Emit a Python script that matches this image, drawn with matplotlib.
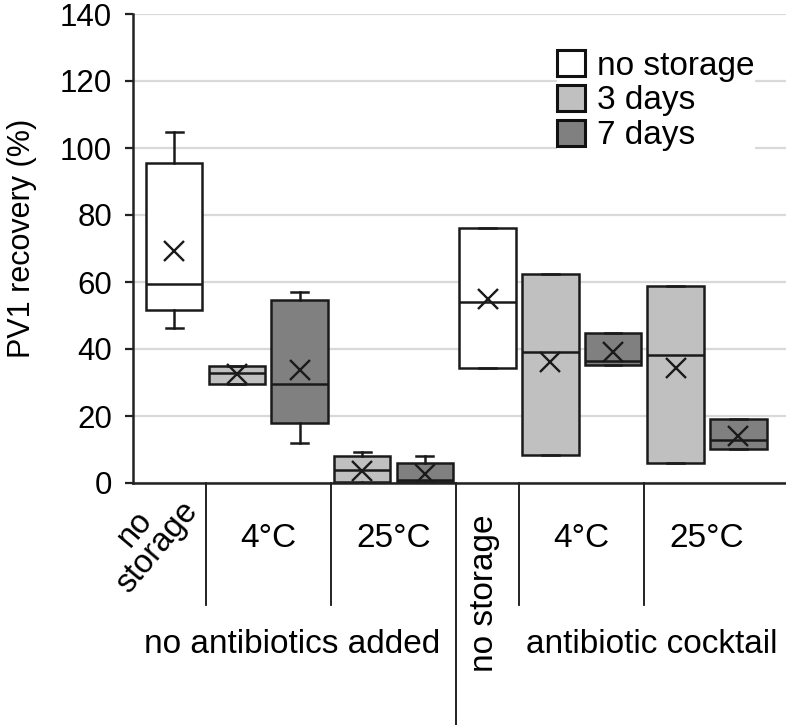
import matplotlib
matplotlib.use("Agg")
import matplotlib.pyplot as plt
from matplotlib.patches import Patch

plt.rcParams["font.family"] = ["Liberation Sans", "DejaVu Sans"]

# box statistics (PV1 recovery, %)
groups = ["no antibiotics added", "antibiotic cocktail"]
conditions = ["no\nstorage", "4°C", "25°C"]
storage = ["no storage", "3 days", "7 days", "3 days", "7 days",
           "no storage", "3 days", "7 days", "3 days", "7 days"]
q1 = [51.6, 29.6, 18.0, 0.4, 0.2, 34.2, 8.4, 35.2, 6.1, 10.2]
med = [59.4, 32.7, 29.6, 3.9, 0.8, 54.1, 39.2, 36.4, 38.2, 12.8]
q3 = [95.4, 35.0, 54.6, 8.1, 6.1, 76.2, 62.3, 44.9, 58.9, 19.2]
whislo = [46.4, 29.6, 11.8, 0.0, 0.0, 34.2, 8.4, 35.2, 6.1, 10.2]
whishi = [104.9, 35.0, 57.1, 9.2, 8.2, 76.2, 62.3, 44.9, 58.9, 19.2]
means = [69.3, 32.6, 33.7, 3.7, 2.7, 54.8, 36.2, 39.2, 34.4, 14.0]

colors = {"no storage": "#ffffff", "3 days": "#c0c0c0", "7 days": "#808080"}
edge = "#1a1a1a"

fig = plt.figure(figsize=(7.86, 7.25), dpi=100)
ax = fig.add_axes([133 / 786, 1 - 483 / 725, 1 - 133 / 786, (483 - 14) / 725])

stats = []
for i in range(len(med)):
    stats.append({
        "q1": q1[i], "med": med[i], "q3": q3[i],
        "whislo": whislo[i], "whishi": whishi[i],
        "mean": means[i], "fliers": [],
    })

positions = list(range(len(stats)))
bp = ax.bxp(
    stats, positions=positions, widths=0.9, capwidths=0.27,
    patch_artist=True, showmeans=True, showfliers=False,
    boxprops=dict(edgecolor=edge, linewidth=1.8),
    medianprops=dict(color=edge, linewidth=1.8),
    whiskerprops=dict(color=edge, linewidth=1.8),
    capprops=dict(color=edge, linewidth=1.8),
    meanprops=dict(marker="x", markersize=15, markeredgecolor=edge,
                   markeredgewidth=1.7),
)
for box, s in zip(bp["boxes"], storage):
    box.set_facecolor(colors[s])

ax.set_ylim(0, 140)
ax.set_xlim(-0.657, 9.76)
ax.set_yticks(range(0, 141, 20))
ax.yaxis.grid(True, color="#d9d9d9", linewidth=1.6)
ax.set_axisbelow(True)
ax.tick_params(axis="y", labelsize=22.5, length=6, width=1.6,
               color="#222222", pad=9)
ax.tick_params(axis="x", bottom=False, labelbottom=False)
for side in ["top", "right"]:
    ax.spines[side].set_visible(False)
for side in ["left", "bottom"]:
    ax.spines[side].set_linewidth(1.8)
    ax.spines[side].set_color("#222222")

fig.text(22 / 786, 1 - 238 / 725, "PV1 recovery (%)", rotation=90,
         ha="center", va="center", fontsize=22)

# category separators below the axis
trans = ax.get_xaxis_transform()
for xs in [0.5, 2.5, 5.5, 7.5]:
    ax.plot([xs, xs], [0, -0.26], color="#111111", linewidth=1.3,
            transform=trans, clip_on=False)
ax.plot([4.5, 4.5], [0, -0.52], color="#111111", linewidth=1.3,
        transform=trans, clip_on=False)

# condition labels
lab_y = -0.119
ax.text(-0.45, -0.117, conditions[0], transform=trans, rotation=50,
        ha="center", va="center", fontsize=23.5, linespacing=0.95,
        multialignment="center")
for off in [0, 5]:
    ax.text(off + 1.5, lab_y, conditions[1], transform=trans,
            ha="center", va="center", fontsize=24)
    ax.text(off + 3.5, lab_y, conditions[2], transform=trans,
            ha="center", va="center", fontsize=24)
ax.text(4.95, -0.2345, "no storage", transform=trans, rotation=90,
        ha="center", va="center", fontsize=24)

ax.text(1.875, -0.345, groups[0], transform=trans,
        ha="center", va="center", fontsize=24)
ax.text(7.62, -0.345, groups[1], transform=trans,
        ha="center", va="center", fontsize=24)

handles = [Patch(facecolor=colors[k], edgecolor="#111111", linewidth=2.2, label=k)
           for k in ["no storage", "3 days", "7 days"]]
leg = fig.legend(handles=handles, loc="upper left",
                 bbox_to_anchor=(557 / 786, 1 - 50 / 725),
                 fontsize=24, frameon=True, fancybox=False,
                 borderpad=0, borderaxespad=0, handlelength=0.85,
                 handleheight=0.82, handletextpad=0.35, labelspacing=0.1)
leg.get_frame().set_edgecolor("none")
leg.get_frame().set_facecolor("white")
leg.get_frame().set_alpha(1)

fig.savefig("out.png", dpi=100)
